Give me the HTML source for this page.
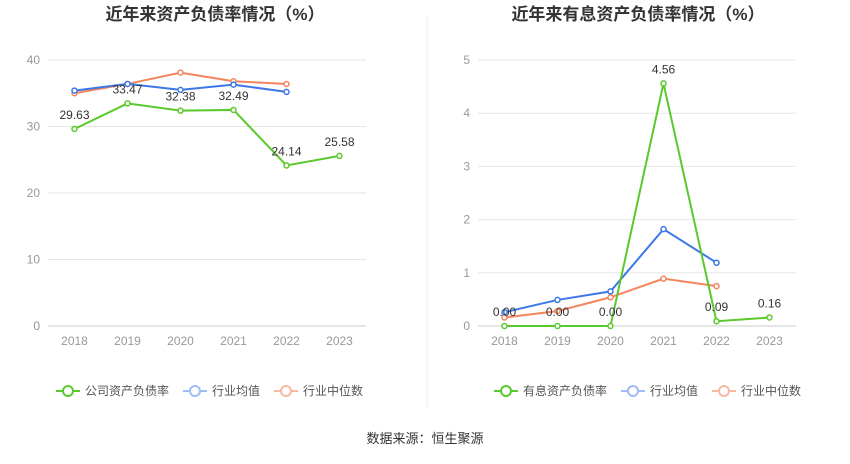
<!DOCTYPE html>
<html><head><meta charset="utf-8"><style>
body{margin:0;background:#fff;font-family:"Liberation Sans","Noto Sans CJK SC",sans-serif;}
svg text{font-family:"Liberation Sans","Noto Sans CJK SC",sans-serif;}
</style></head><body>
<svg id="c" width="850" height="459">
<line x1="427" y1="15" x2="427" y2="408" stroke="#eee"/>
<text x="425" y="443" font-size="13" fill="#333" text-anchor="middle">数据来源：恒生聚源</text>
</svg>
<script>
const years=["2018","2019","2020","2021","2022","2023"];
const leftCompany=[29.63,33.47,32.38,32.49,24.14,25.58];
const leftAvg=[35.4,36.4,35.5,36.3,35.2];
const leftMed=[35.0,36.4,38.1,36.8,36.4];
const leftTicks=[0,10,20,30,40];
const rightCompany=[0.00,0.00,0.00,4.56,0.09,0.16];
const rightAvg=[0.26,0.49,0.65,1.82,1.19];
const rightMed=[0.16,0.28,0.54,0.89,0.75];
const rightTicks=[0,1,2,3,4,5];
const svg=document.getElementById('c');
const NS="http://www.w3.org/2000/svg";
function mk(t,a){const e=document.createElementNS(NS,t);for(const k in a)e.setAttribute(k,a[k]);svg.appendChild(e);return e;}
function chart(p){
 const x0=p.x0,x1=p.x0+318,yb=326,yt=60;
 const X=i=>x0+26.5+i*53;
 const Y=v=>yb-(v-0)/(p.max)*(yb-yt);
 const t=mk('text',{x:p.cx,y:20,'font-size':17,'font-weight':'bold',fill:'#333','text-anchor':'middle'});
 t.textContent=p.title;
 
 
 p.ticks.forEach(v=>{
  const g=mk('line',{x1:x0,x2:x1,y1:Y(v),y2:Y(v),stroke:v===0?'#ccc':'#e6e6e6'});
  
  
  const l=mk('text',{x:x0-8,y:Y(v)+4,'font-size':12,fill:'#999','text-anchor':'end'});
  l.textContent=v;
  
  
 });
 years.forEach((y,i)=>{
  const l=mk('text',{x:X(i),y:345,'font-size':12,fill:'#999','text-anchor':'middle'});
  l.textContent=y;
  
  
 });
 const series=[[p.med,'#f5855c','median'],[p.avg,'#3c78e8','average'],[p.comp,'#5ac92c','company']];
 series.forEach(([d,c,n])=>{
  const pl=mk('polyline',{points:d.map((v,i)=>X(i)+','+Y(v)).join(' '),fill:'none',stroke:c,'stroke-width':2});
  
  
  d.forEach((v,i)=>{
   const ci=mk('circle',{cx:X(i),cy:Y(v),r:2.5,fill:'#fff',stroke:c,'stroke-width':1.5});
   
   
  });
 });
 p.comp.forEach((v,i)=>{
  const l=mk('text',{x:X(i),y:Y(v)-10,'font-size':12,fill:'#333','text-anchor':'middle'});
  l.textContent=v.toFixed(2);
  
  
 });
 const leg=[[p.legend,'#5ac92c'],['行业均值','#a0bdf2'],['行业中位数','#f8b9a3']];
 let lx=p.legX;
 leg.forEach(([txt,c],k)=>{
  const ln=mk('line',{x1:lx,x2:lx+24,y1:391,y2:391,stroke:c,'stroke-width':2});
  
  
  const ci=mk('circle',{cx:lx+12,cy:391,r:5,fill:'#fff',stroke:c,'stroke-width':2});
  
  
  const tx=mk('text',{x:lx+29,y:395,'font-size':12,fill:'#555'});
  tx.textContent=txt;
  
  
  lx+=29+txt.length*12+14;
 });
}
chart({id:'left',x0:48,cx:215,title:'近年来资产负债率情况（%）',max:40,ticks:leftTicks,comp:leftCompany,avg:leftAvg,med:leftMed,legend:'公司资产负债率',legX:56});
chart({id:'right',x0:478,cx:638,title:'近年来有息资产负债率情况（%）',max:5,ticks:rightTicks,comp:rightCompany,avg:rightAvg,med:rightMed,legend:'有息资产负债率',legX:494});
</script>
</body></html>
